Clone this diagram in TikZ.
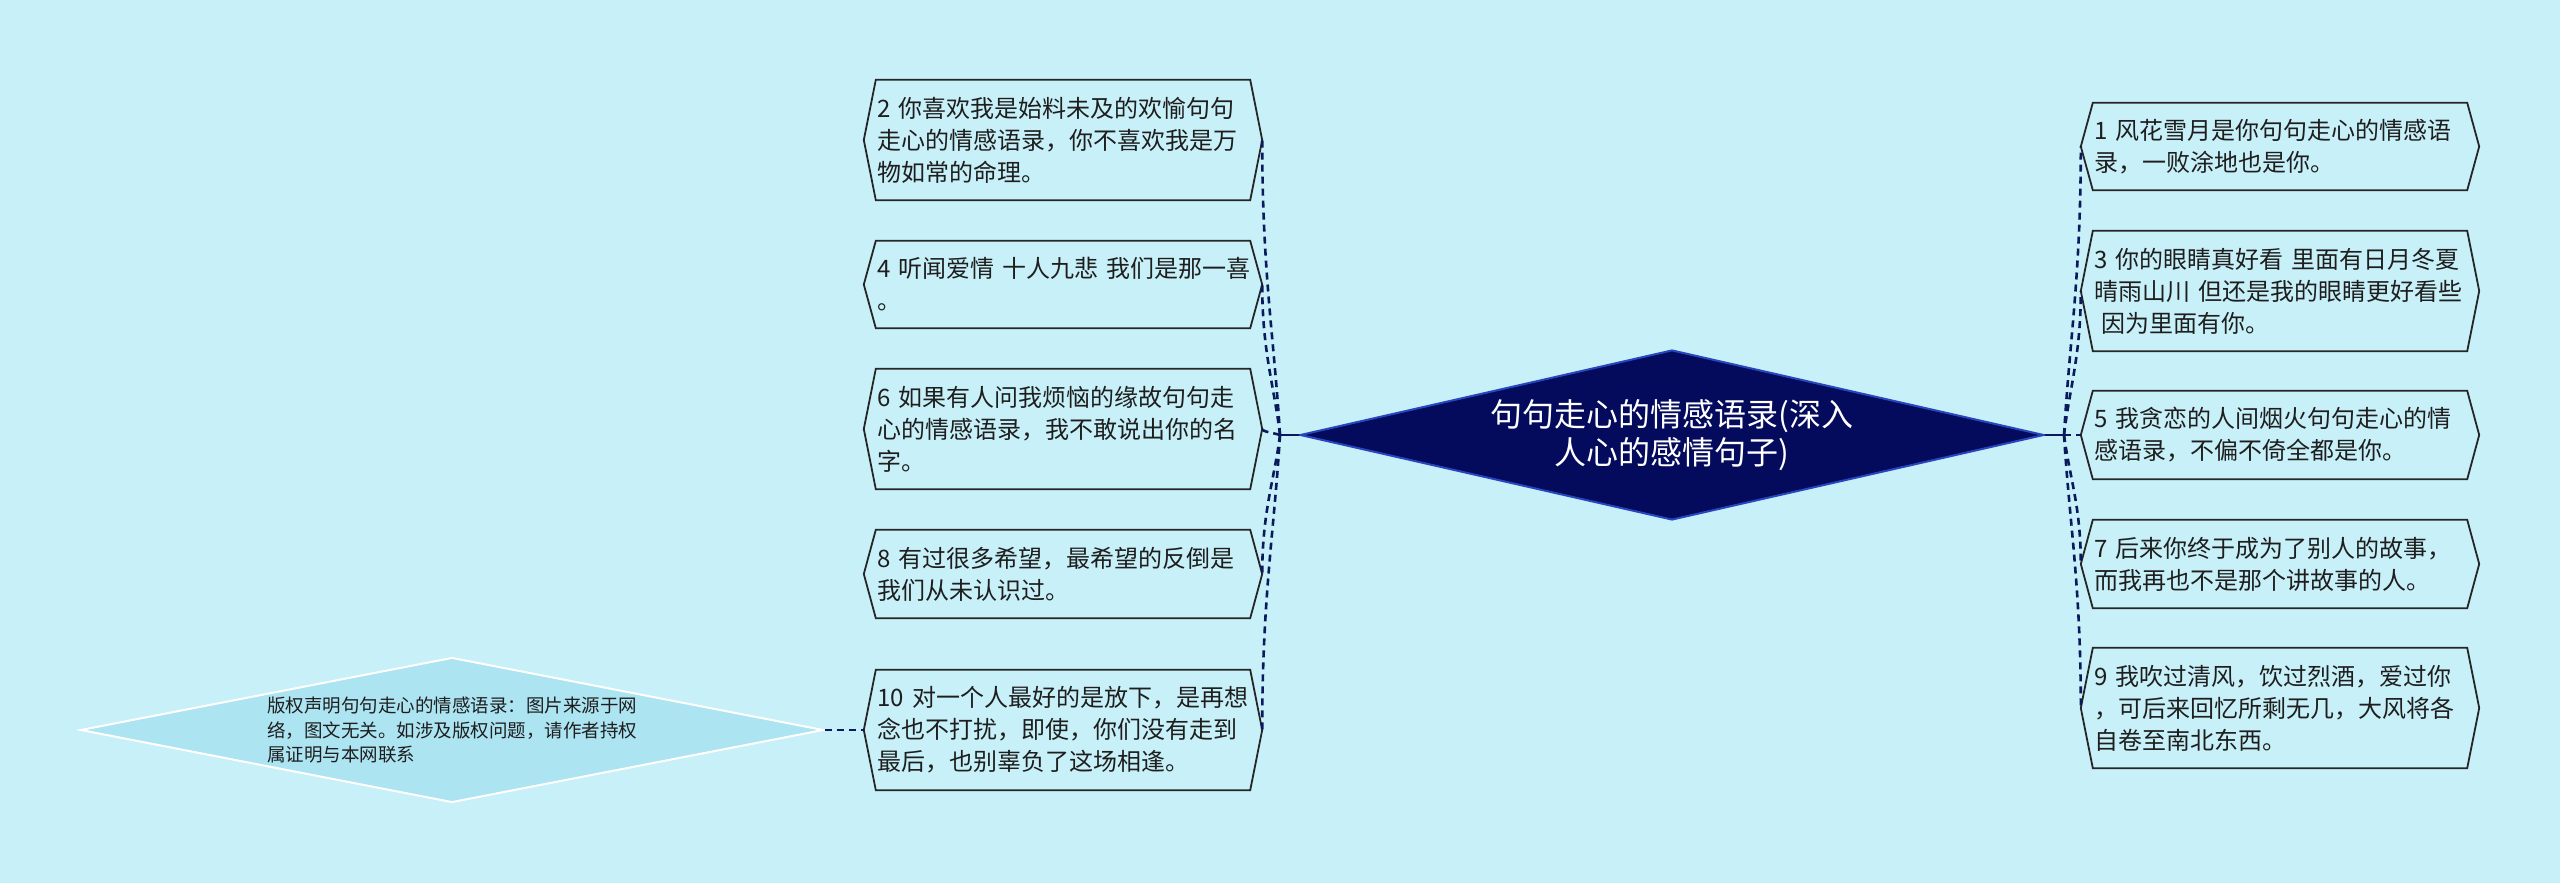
\documentclass[tikz,border=0pt]{standalone}
\usepackage{fontspec}
\setmainfont{Noto Sans CJK SC}
\usetikzlibrary{shapes.geometric,calc}
\definecolor{bg}{RGB}{200,240,248}
\definecolor{navy}{RGB}{4,10,92}
\definecolor{rimblue}{RGB}{40,70,190}
\definecolor{conn}{RGB}{10,26,92}
\definecolor{note}{RGB}{172,228,242}
\definecolor{txt}{RGB}{30,30,30}
\begin{document}
\begin{tikzpicture}[x=1pt,y=-1pt,
  hexbox/.style={minimum width=374pt, text width=371pt, inner xsep=1.5pt, inner ysep=0pt,
    align=left, text=txt, font=\fontsize{24pt}{32pt}\selectfont},
  hexline/.style={draw=black!85, line width=1.8pt, line join=miter},
  connector/.style={draw=conn, line width=2.6pt, dash pattern=on 7pt off 5pt},
  stub/.style={draw=conn, line width=2.6pt}]
\fill[bg] (0,0) rectangle (2560,883);
\useasboundingbox (0,0) rectangle (2560,883);

% central topic
\node[diamond, aspect=4.376, fill=navy, draw=rimblue, line width=2pt, minimum width=744pt, minimum height=170pt,
  inner sep=0pt, text=white, align=center, font=\fontsize{32pt}{38pt}\selectfont]
  (root) at (1672,435) {句句走心的情感语录(深入\\人心的感情句子)};

% left boxes
\node[hexbox, minimum height=120pt] (b2) at (1063,140) {2 你喜欢我是始料未及的欢愉句句\\走心的情感语录，你不喜欢我是万\\物如常的命理。};
\node[hexbox, minimum height=87pt] (b4) at (1063,284.5) {4~听闻爱情~十人九悲~我们是那一喜\\。};
\node[hexbox, minimum height=120pt] (b6) at (1063,429) {6 如果有人问我烦恼的缘故句句走\\心的情感语录，我不敢说出你的名\\字。};
\node[hexbox, minimum height=88pt] (b8) at (1063,574) {8 有过很多希望，最希望的反倒是\\我们从未认识过。};
\node[hexbox, minimum height=120pt] (b10) at (1063,730) {10 对一个人最好的是放下，是再想\\念也不打扰，即使，你们没有走到\\最后，也别辜负了这场相逢。};

% right boxes
\node[hexbox, minimum height=87pt] (b1) at (2280,146.5) {1 风花雪月是你句句走心的情感语\\录，一败涂地也是你。};
\node[hexbox, minimum height=120pt] (b3) at (2280,291) {3~你的眼睛真好看~里面有日月冬夏\\晴雨山川~但还是我的眼睛更好看些\\\hspace*{7pt}因为里面有你。};
\node[hexbox, minimum height=88pt] (b5) at (2280,435) {5 我贪恋的人间烟火句句走心的情\\感语录，不偏不倚全都是你。};
\node[hexbox, minimum height=88pt] (b7) at (2280,564) {7 后来你终于成为了别人的故事，\\而我再也不是那个讲故事的人。};
\node[hexbox, minimum height=120pt] (b9) at (2280,708) {9 我吹过清风，饮过烈酒，爱过你\\，可后来回忆所剩无几，大风将各\\自卷至南北东西。};

% note diamond
\node[diamond, aspect=5.12, fill=note, draw=white, line width=2pt, minimum width=743pt, minimum height=145pt,
  inner sep=0pt, align=left, text=txt, font=\fontsize{18.5pt}{24.5pt}\selectfont]
  (cr) at (452,730) {版权声明句句走心的情感语录：图片来源于网\\络，图文无关。如涉及版权问题，请作者持权\\属证明与本网联系};

% hexagon outlines and their tips
\foreach \n in {b1,b2,b3,b4,b5,b6,b7,b8,b9,b10}{
  \draw[hexline] (\n.north west) -- ([xshift=-12pt]\n.west) -- (\n.south west)
    -- (\n.south east) -- ([xshift=12pt]\n.east) -- (\n.north east) -- cycle;
  \coordinate (\n r) at ([xshift=12pt]\n.east);
  \coordinate (\n l) at ([xshift=-12pt]\n.west);
}

% junctions
\coordinate (L) at (1280,435);
\coordinate (R) at (2064,435);
\draw[stub] (root.west) -- (L);
\draw[stub] (root.east) -- (R);

\foreach \n in {b2,b4,b6,b8,b10}{
  \draw[connector] (L) .. controls ($(L)!0.33!(\n r)$) and ($(\n r)!0.45!(\n r |- L)$) .. (\n r);
}
\foreach \n in {b1,b3,b5,b7,b9}{
  \draw[connector] (R) .. controls ($(R)!0.33!(\n l)$) and ($(\n l)!0.45!(\n l |- R)$) .. (\n l);
}
\draw[connector] (cr.east) -- (b10l);
\end{tikzpicture}
\end{document}
